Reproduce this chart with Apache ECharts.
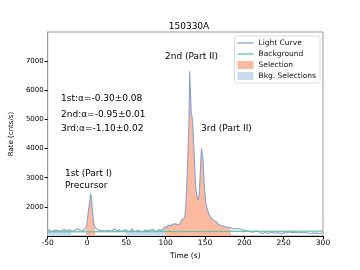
<!DOCTYPE html>
<html>
<head>
<meta charset="utf-8">
<script src="https://cdn.jsdelivr.net/npm/echarts@6/dist/echarts.min.js"></script>
<style>html,body{margin:0;padding:0;background:#fff}#c{width:360px;height:270px}</style>
</head>
<body>
<div id="c"></div>
<script>
// ---- data ----
const title = '150330A';
const lcTimes = [
 -50,-48,-46,-44,-42,-40,-38,-36,-34,-32,-30,-28,-26,-24,-22,-20,-18,-16,-14,-12,-10,-8,-6,-4,-2,
 0,1,2,3,4,5,6,7,8,9,10,11,12,
 14,16,18,20,22,24,26,28,30,32,34,36,38,40,42,44,46,48,50,52,54,56,58,60,62,64,66,68,70,72,74,76,78,80,82,84,86,88,90,92,94,96,98,
 100,102,104,106,108,110,112,114,116,118,120,122,
 124,125,126,127,128,129,130,131,132,133,134,135,136,137,138,139,140,141,142,143,144,145,146,147,148,149,150,
 152,154,156,158,160,162,164,166,168,170,172,174,176,178,180,182,184,186,188,190,192,194,196,198,200,
 202,204,206,208,210,212,214,216,218,220,222,224,226,228,230,232,234,236,238,240,242,244,246,248,250,
 252,254,256,258,260,262,264,266,268,270,272,274,276,278,280,282,284,286,288,290,292,294,296,298,300
];
const lcRates = [
 1230,1180,1210,1160,1200,1250,1190,1170,1220,1180,1240,1200,1160,1210,1190,1230,1170,1200,1180,1250,1190,1210,1170,1230,1200,
 1300,1550,1800,2000,2200,2450,2350,1950,1650,1450,1350,1280,1230,
 1210,1180,1230,1190,1170,1220,1200,1160,1210,1190,1240,1180,1170,1220,1200,1150,1190,1210,1230,1170,1150,1200,1250,1180,1160,1200,1220,1170,1150,1190,1210,1180,1160,1200,1230,1170,1190,1150,1180,1220,1200,1240,1190,
 1320,1290,1380,1350,1400,1360,1420,1390,1450,1410,1480,1560,
 1620,1700,2000,2550,3250,4000,4800,6650,6600,5200,5100,4800,4200,3600,3000,2600,2400,2300,2230,2400,2900,3500,4000,4050,3600,3000,2600,
 2150,1900,1750,1650,1580,1520,1470,1430,1390,1360,1340,1300,1320,1290,1280,1300,1260,1270,1240,1260,1230,1250,1220,1240,1200,
 1180,1150,1170,1130,1160,1140,1180,1120,1150,1100,1130,1090,1140,1110,1080,1120,1100,1130,1090,1070,1110,1100,1130,1080,1120,
 1090,1100,1140,1080,1110,1130,1090,1120,1100,1080,1130,1110,1090,1120,1100,1140,1080,1110,1130,1090,1100,1120,1080,1110,1100
];
const bgTimes = [-50, 300];
const bgRates = [1140, 1170];
const selRanges = [[0, 10], [100, 182]];
const bkgRanges = [[-50, -20], [50, 100]];
const xTicks = [-50, 0, 50, 100, 150, 200, 250, 300];
const yTicks = [2000, 3000, 4000, 5000, 6000, 7000];
const indexTexts = ['1st:α=-0.30±0.08', '2nd:α=-0.95±0.01', '3rd:α=-1.10±0.02'];

// ---- build ----
function inRanges(t, ranges) { return ranges.some(r => t >= r[0] && t <= r[1]); }
function rangeData(ranges) {
  return lcTimes.map((t, i) => inRanges(t, ranges) ? [t, lcRates[i]] : [t, null]);
}
const lcData = lcTimes.map((t, i) => [t, lcRates[i]]);
const bgData = bgTimes.map((t, i) => [t, bgRates[i]]);
const FONT = 'DejaVu Sans';
const cLC = '#8c9fcf', cBG = '#66c2a5', cSel = '#fcbba1', cBkg = '#c9dcee';

const chart = echarts.init(document.getElementById('c'), null, {renderer: 'canvas'});
chart.setOption({
  animation: false,
  backgroundColor: '#fff',
  textStyle: {fontFamily: FONT},
  title: {text: title, left: 184, textAlign: 'center', top: 17,
          textStyle: {fontFamily: FONT, fontSize: 9, fontWeight: 'normal', color: '#000'}},
  grid: {left: 45, right: 37, top: 32, bottom: 34, show: true, borderColor: '#999', borderWidth: 1},
  legend: {
    orient: 'vertical', right: 40, top: 36, padding: [3, 4, 3, 3], itemGap: 3,
    itemWidth: 16, itemHeight: 8, borderColor: '#ddd', borderWidth: 1, borderRadius: 2,
    backgroundColor: '#fff',
    textStyle: {fontFamily: FONT, fontSize: 7.5, color: '#111', padding: [0, 0, 0, 0]},
    data: [
      {name: 'Light Curve', icon: 'path://M0,0h20v1.6h-20z'},
      {name: 'Background', icon: 'path://M0,0h20v1.6h-20z'},
      {name: 'Selection', icon: 'rect'},
      {name: 'Bkg. Selections', icon: 'rect'}
    ]
  },
  xAxis: {
    type: 'value', min: xTicks[0], max: xTicks[xTicks.length - 1], interval: 50,
    name: 'Time (s)', nameLocation: 'middle', nameGap: 15,
    nameTextStyle: {fontFamily: FONT, fontSize: 7.5, color: '#000'},
    axisLine: {show: true, onZero: false, lineStyle: {color: '#000', width: 1}},
    axisTick: {show: true, length: 3, lineStyle: {color: '#000'}},
    axisLabel: {fontFamily: FONT, fontSize: 7.5, color: '#000', margin: 3},
    splitLine: {show: false}
  },
  yAxis: {
    type: 'value', min: 1000, max: 8000, interval: 1000,
    name: 'Rate (cnts/s)', nameLocation: 'middle', nameGap: 27,
    nameTextStyle: {fontFamily: FONT, fontSize: 7, color: '#000'},
    axisLine: {show: true, onZero: false, lineStyle: {color: '#999', width: 1}},
    axisTick: {show: true, length: 3, lineStyle: {color: '#000'},
               customValues: yTicks},
    axisLabel: {fontFamily: FONT, fontSize: 7, color: '#000', margin: 4,
                customValues: yTicks, formatter: v => String(v)},
    splitLine: {show: false}
  },
  series: [
    {name: 'Bkg. Selections', type: 'line', data: rangeData(bkgRanges), step: 'middle',
     showSymbol: false, connectNulls: false, lineStyle: {width: 0}, itemStyle: {color: cBkg},
     areaStyle: {color: cBkg, opacity: 1, origin: 'start'}, z: 1},
    {name: 'Selection', type: 'line', data: rangeData(selRanges), step: 'middle',
     showSymbol: false, connectNulls: false, lineStyle: {width: 0}, itemStyle: {color: cSel},
     areaStyle: {color: cSel, opacity: 1, origin: 'start'}, z: 2},
    {name: 'Light Curve', type: 'line', data: lcData, step: 'middle', showSymbol: false,
     itemStyle: {color: cLC}, lineStyle: {color: cLC, width: 1.1}, z: 3},
    {name: 'Background', type: 'line', data: bgData, showSymbol: false,
     itemStyle: {color: cBG}, lineStyle: {color: cBG, width: 1.2}, z: 4}
  ],
  graphic: [
    {type: 'text', left: 61, top: 94, style: {text: indexTexts[0], font: '9px "DejaVu Sans"', fill: '#000'}},
    {type: 'text', left: 61, top: 110, style: {text: indexTexts[1], font: '9px "DejaVu Sans"', fill: '#000'}},
    {type: 'text', left: 61, top: 124, style: {text: indexTexts[2], font: '9px "DejaVu Sans"', fill: '#000'}},
    {type: 'text', left: 165, top: 52, style: {text: '2nd (Part II)', font: '9px "DejaVu Sans"', fill: '#000'}},
    {type: 'text', left: 201, top: 124, style: {text: '3rd (Part II)', font: '9px "DejaVu Sans"', fill: '#000'}},
    {type: 'text', left: 65, top: 169, style: {text: '1st (Part I)', font: '9px "DejaVu Sans"', fill: '#000'}},
    {type: 'text', left: 65, top: 181, style: {text: 'Precursor', font: '9px "DejaVu Sans"', fill: '#000'}}
  ]
});
</script>
</body>
</html>
